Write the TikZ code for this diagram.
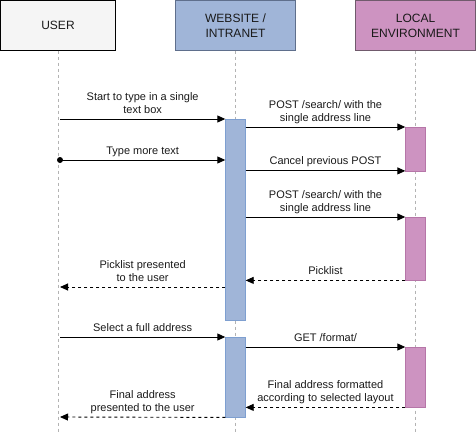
\documentclass[tikz,border=0pt]{standalone}
\usepackage{fontspec}
\setmainfont{Liberation Sans}
\usetikzlibrary{arrows.meta}

\definecolor{userfill}{HTML}{F5F5F5}
\definecolor{webfill}{HTML}{A0B5D8}
\definecolor{webline}{HTML}{7E9FD0}
\definecolor{webhead}{HTML}{5F6F8C}
\definecolor{locfill}{HTML}{CD93C1}
\definecolor{locline}{HTML}{B676A8}
\definecolor{lochead}{HTML}{705A6C}
\definecolor{lifegray}{HTML}{B3B3B3}
\definecolor{txt}{HTML}{1A1A1A}

\tikzset{
  head/.style={rectangle,draw,minimum width=120pt,minimum height=50pt,align=center,
    font=\fontsize{12}{15}\selectfont,text=txt,inner sep=0pt},
  act/.style={rectangle,draw,minimum width=20pt,anchor=north,inner sep=0pt},
  life/.style={draw=lifegray,dash pattern=on 3pt off 3pt,line width=0.8pt},
  call/.style={-{Triangle[length=8pt,width=7pt]},line width=0.9pt},
  reply/.style={call,dash pattern=on 3pt off 3pt},
  lbl/.style={font=\fontsize{11}{13}\selectfont,text=txt,align=center,
    inner sep=0pt,text depth=0pt,above=5.5pt}
}

\begin{document}
\begin{tikzpicture}[x=1pt,y=-1pt]
            \useasboundingbox (0,0) rectangle (476,432);

            \node (user) at (58,25.5) [head,fill=userfill,draw=black,minimum width=115pt] {USER};
            \node (web) at (235.5,25.5) [head,fill=webfill,draw=webhead] {WEBSITE /\\INTRANET};
            \node (loc) at (415.5,25.5) [head,fill=locfill,draw=lochead] {LOCAL\\ENVIRONMENT};

            \coordinate (uend) at (58,432);
            \coordinate (wend) at (235.5,432);
            \coordinate (lend) at (415.5,432);
            \draw[life] (user.south) -- (uend) (web.south) -- (wend) (loc.south) -- (lend);

            % activation bars
            \node (wa1) at (235.5,119) [act,fill=webfill,draw=webline,minimum height=201pt] {};
            \node (wa2) at (235.5,337) [act,fill=webfill,draw=webline,minimum height=80pt] {};
            \node (la1) at (415.5,127) [act,fill=locfill,draw=locline,minimum height=43.5pt] {};
            \node (la2) at (415.5,217) [act,fill=locfill,draw=locline,minimum height=63pt] {};
            \node (la3) at (415.5,347) [act,fill=locfill,draw=locline,minimum height=60pt] {};

            \coordinate (u1) at (60,119);
            \coordinate (u2) at (60,160);
            \coordinate (u3) at (60,287);
            \coordinate (u4) at (60,337);
            \coordinate (u5) at (60,417);

            \draw[call] (u1) -- node[lbl] {Start to type in a single\\text box} (wa1.north west);
            \draw[call] (wa1.east |- la1.north) -- node[lbl] {POST /search/ with the\\single address line} (la1.north west);
            \node (dot) at (u2) [circle,fill,inner sep=0pt,minimum size=6pt] {};
            \draw[call] (u2) -- node[lbl] {Type more text} (wa1.west |- u2);
            \draw[call] (wa1.east |- la1.south) -- node[lbl] {Cancel previous POST} (la1.south west);
            \draw[call] (wa1.east |- la2.north) -- node[lbl] {POST /search/ with the\\single address line} (la2.north west);
            \draw[reply] (la2.south west) -- node[lbl] {Picklist} (wa1.east |- la2.south);
            \draw[reply] (wa1.west |- u3) -- node[lbl] {Picklist presented\\to the user} (u3);

            \draw[call] (u4) -- node[lbl] {Select a full address} (wa2.north west);
            \draw[call] (wa2.east |- la3.north) -- node[lbl] {GET /format/} (la3.north west);
            \draw[reply] (la3.south west) -- node[lbl] {Final address formatted\\according to selected layout} (wa2.east |- la3.south);
            \draw[reply] (wa2.south west) -- node[lbl] {Final address\\presented to the user} (u5);

        \end{tikzpicture}
\end{document}
